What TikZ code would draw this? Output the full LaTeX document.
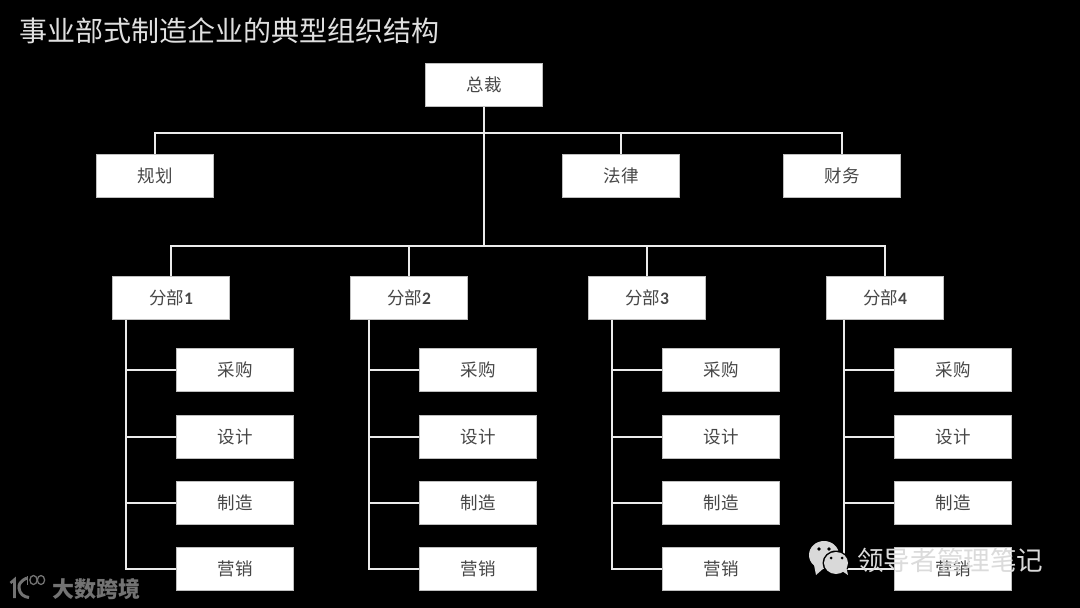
\documentclass[tikz,border=0pt]{standalone}
\usepackage{fontspec}
\setmainfont{Noto Sans CJK SC}
\newfontfamily\latinf{Carlito}
\begin{document}
\begin{tikzpicture}[x=1pt,y=-1pt,
  box/.style={draw=black!25,line width=.6pt,fill=white,minimum width=117pt,minimum height=43pt,inner sep=0pt,text=black!72,font=\fontsize{17.5}{19}\selectfont},
  wire/.style={draw=white!92!black,line width=2.1pt}]
\useasboundingbox (0,0) rectangle (1080,608);
\fill[black] (0,0) rectangle (1080,608);
\node[anchor=west,inner sep=0pt,text=white!88!black,font=\fontsize{28}{30}\selectfont] (title) at (19,31) {事业部式制造企业的典型组织结构};
% top tier
\node[box] (ceo) at (484,85) {总裁};
\node[box] (plan) at (155,176) {规划};
\node[box] (law) at (621,176) {法律};
\node[box] (fin) at (842,176) {财务};
% divisions
\foreach \n/\x/\lab in {1/171/1,2/409/2,3/647/3,4/885/4}
  \node[box] (d\n) at (\x,298) {分部{\latinf\bfseries\lab}};
% children
\foreach \n/\x in {1/235,2/478,3/721,4/953}{
  \node[box] (a\n) at (\x,370) {采购};
  \node[box] (b\n) at (\x,437) {设计};
  \node[box] (c\n) at (\x,503) {制造};
  \node[box] (e\n) at (\x,569) {营销};
}
% buses
\coordinate (bus1) at (484,133);
\coordinate (bus2) at (484,246);
\coordinate (t1) at (126,319.5);
\coordinate (t2) at (369,319.5);
\coordinate (t3) at (612,319.5);
\coordinate (t4) at (844,319.5);
\draw[wire] (ceo.south) -- (bus2);
\draw[wire] (plan.north) |- (bus1);
\draw[wire] (fin.north) |- (bus1);
\draw[wire] (law.north) |- (bus1);
\foreach \n in {1,2,3,4}{
  \draw[wire] (d\n.north) |- (bus2);
  \draw[wire] (t\n) |- (e\n.west);
  \draw[wire] (t\n |- a\n.west) -- (a\n.west);
  \draw[wire] (t\n |- b\n.west) -- (b\n.west);
  \draw[wire] (t\n |- c\n.west) -- (c\n.west);
}
% watermark: WeChat
\fill[white!85!black] (824,555) ellipse (15 and 14);
\fill[white!85!black] (814,565) -- (816,575) -- (824,568) -- cycle;
\fill[black] (819,549) circle (1.8) (829,549) circle (1.8);
\fill[black] (836,563) ellipse (13.5 and 12.5);
\fill[white!85!black] (836,563) ellipse (12 and 11);
\fill[white!85!black] (842,571) -- (848,575) -- (846,566) -- cycle;
\fill[black] (831,558) circle (1.5) (842,558) circle (1.5);
\node[anchor=west,inner sep=0pt,text=black!14,font=\fontsize{26.6}{28}\selectfont] (wm) at (857,560) {领导者管理笔记};
% watermark: 100 logo
\draw[draw=black!55,line width=2.6pt] (10.5,583) -- (14.5,579.5) -- (14.5,598);
\draw[draw=black!55,line width=3pt] (27,578) .. controls (20,581) and (18.5,585) .. (19,588) .. controls (19.5,594) and (24,597) .. (29,597.5);
\begin{scope}[draw=black!55,line width=1.3pt]
\draw (27.5,576) -- (27.5,585);
\draw (33.5,580) ellipse (3.6 and 4.5);
\draw (41,580) ellipse (3.6 and 4.5);
\end{scope}
\node[anchor=west,inner sep=0pt,text=black!55,font=\bfseries\fontsize{22}{24}\selectfont] (bd) at (52,589) {大数跨境};
\end{tikzpicture}
\end{document}
